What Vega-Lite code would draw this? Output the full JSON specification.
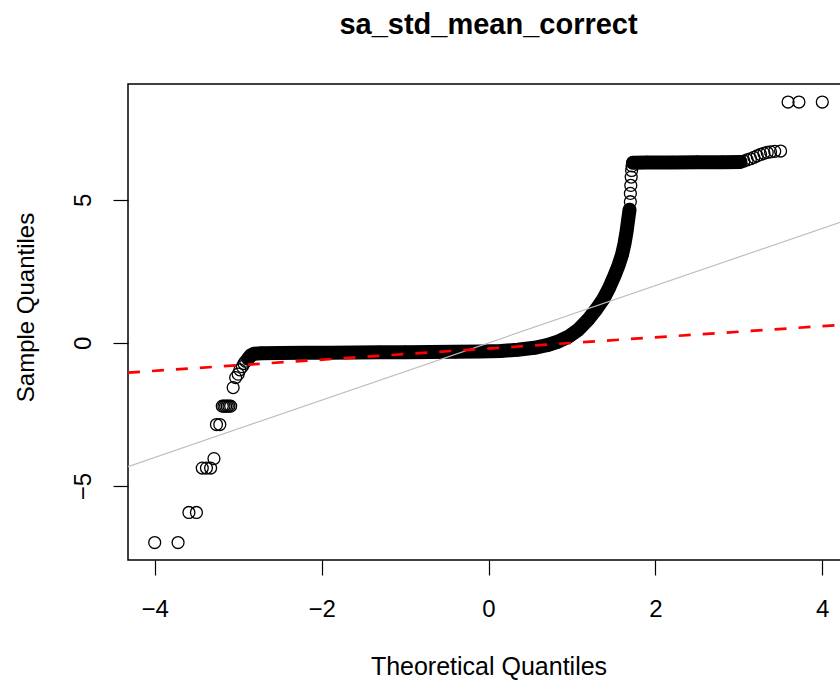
{
  "$schema": "https://vega.github.io/schema/vega-lite/v6.json",
  "width": 721,
  "height": 476,
  "autosize": {"type": "none"},
  "padding": {"left": 128, "top": 84, "right": 0, "bottom": 120},
  "background": "white",
  "config": {"view": {"stroke": "black", "strokeWidth": 1.5}, "font": "Liberation Sans"},
  "title": {"text": "sa_std_mean_correct", "fontSize": 29, "fontWeight": "bold", "font": "Liberation Sans", "color": "black", "anchor": "middle", "baseline": "alphabetic", "offset": 21},
  "datasets": {
    "pts": [
      {"q": -4.00, "s": -6.97, "g": "t"},
      {"q": -3.72, "s": -6.97, "g": "t"},
      {"q": -3.59, "s": -5.92, "g": "t"},
      {"q": -3.50, "s": -5.92, "g": "t"},
      {"q": -3.43, "s": -4.37, "g": "t"},
      {"q": -3.38, "s": -4.37, "g": "t"},
      {"q": -3.33, "s": -4.37, "g": "t"},
      {"q": -3.29, "s": -4.04, "g": "t"},
      {"q": -3.26, "s": -2.85, "g": "t"},
      {"q": -3.22, "s": -2.85, "g": "t"},
      {"q": -3.19, "s": -2.21, "g": "t"},
      {"q": -3.17, "s": -2.21, "g": "t"},
      {"q": -3.15, "s": -2.21, "g": "t"},
      {"q": -3.13, "s": -2.21, "g": "t"},
      {"q": -3.11, "s": -2.21, "g": "t"},
      {"q": -3.09, "s": -2.21, "g": "t"},
      {"q": -3.06, "s": -1.56, "g": "t"},
      {"q": -3.03, "s": -1.21, "g": "t"},
      {"q": -3.00, "s": -1.09, "g": "t"},
      {"q": -2.98, "s": -0.94, "g": "t"},
      {"q": -2.95, "s": -0.83, "g": "t"},
      {"q": -2.93, "s": -0.72, "g": "t"},
      {"q": -2.91, "s": -0.64, "g": "t"},
      {"q": -2.88, "s": -0.55, "g": "b1"},
      {"q": -2.85, "s": -0.44, "g": "b1"},
      {"q": -2.81, "s": -0.38, "g": "b1"},
      {"q": -2.72, "s": -0.36, "g": "b1"},
      {"q": -2.50, "s": -0.35, "g": "b1"},
      {"q": -2.20, "s": -0.345, "g": "b1"},
      {"q": -1.90, "s": -0.34, "g": "b1"},
      {"q": -1.60, "s": -0.335, "g": "b1"},
      {"q": -1.30, "s": -0.33, "g": "b1"},
      {"q": -1.00, "s": -0.325, "g": "b1"},
      {"q": -0.70, "s": -0.32, "g": "b1"},
      {"q": -0.40, "s": -0.31, "g": "b1"},
      {"q": -0.10, "s": -0.30, "g": "b1"},
      {"q": 0.15, "s": -0.28, "g": "b1"},
      {"q": 0.35, "s": -0.24, "g": "b1"},
      {"q": 0.55, "s": -0.17, "g": "b1"},
      {"q": 0.70, "s": -0.08, "g": "b1"},
      {"q": 0.82, "s": 0.03, "g": "b1"},
      {"q": 0.96, "s": 0.22, "g": "b1"},
      {"q": 1.08, "s": 0.47, "g": "b1"},
      {"q": 1.19, "s": 0.80, "g": "b1"},
      {"q": 1.29, "s": 1.17, "g": "b1"},
      {"q": 1.38, "s": 1.55, "g": "b1"},
      {"q": 1.45, "s": 1.95, "g": "b1"},
      {"q": 1.51, "s": 2.35, "g": "b1"},
      {"q": 1.56, "s": 2.72, "g": "b1"},
      {"q": 1.60, "s": 3.08, "g": "b1"},
      {"q": 1.63, "s": 3.47, "g": "b1"},
      {"q": 1.655, "s": 3.90, "g": "b1"},
      {"q": 1.675, "s": 4.33, "g": "b1"},
      {"q": 1.69, "s": 4.65, "g": "b1"},
      {"q": 1.70, "s": 4.93, "g": "t"},
      {"q": 1.70, "s": 5.22, "g": "t"},
      {"q": 1.705, "s": 5.50, "g": "t"},
      {"q": 1.71, "s": 5.79, "g": "t"},
      {"q": 1.715, "s": 6.02, "g": "t"},
      {"q": 1.72, "s": 6.18, "g": "t"},
      {"q": 1.73, "s": 6.29, "g": "b2"},
      {"q": 1.90, "s": 6.30, "g": "b2"},
      {"q": 2.20, "s": 6.30, "g": "b2"},
      {"q": 2.50, "s": 6.31, "g": "b2"},
      {"q": 2.80, "s": 6.31, "g": "b2"},
      {"q": 3.02, "s": 6.32, "g": "b2"},
      {"q": 3.06, "s": 6.35, "g": "t"},
      {"q": 3.10, "s": 6.39, "g": "t"},
      {"q": 3.14, "s": 6.43, "g": "t"},
      {"q": 3.18, "s": 6.48, "g": "t"},
      {"q": 3.22, "s": 6.53, "g": "t"},
      {"q": 3.26, "s": 6.58, "g": "t"},
      {"q": 3.30, "s": 6.62, "g": "t"},
      {"q": 3.34, "s": 6.65, "g": "t"},
      {"q": 3.38, "s": 6.67, "g": "t"},
      {"q": 3.43, "s": 6.69, "g": "t"},
      {"q": 3.50, "s": 6.70, "g": "t"},
      {"q": 3.59, "s": 8.41, "g": "t"},
      {"q": 3.72, "s": 8.41, "g": "t"},
      {"q": 4.00, "s": 8.41, "g": "t"}
    ]
  },
  "layer": [
    {
      "data": {"name": "pts"},
      "transform": [{"filter": "datum.g != 't'"}],
      "mark": {"type": "line", "stroke": "black", "strokeWidth": 14, "strokeCap": "round", "strokeJoin": "round", "clip": true},
      "encoding": {
        "x": {
          "field": "q", "type": "quantitative",
          "scale": {"domain": [-4.32, 4.32], "nice": false, "zero": false},
          "axis": {
            "values": [-4, -2, 0, 2, 4], "format": "d", "domain": false, "grid": false,
            "tickSize": 15, "tickWidth": 1.2, "tickColor": "black",
            "labelFontSize": 24, "labelColor": "black", "labelFont": "Liberation Sans",
            "labelPadding": 41, "labelBaseline": "alphabetic", "labelFlush": false, "labelOverlap": false,
            "title": "Theoretical Quantiles", "titleFontSize": 25, "titleFont": "Liberation Sans",
            "titleFontWeight": "normal", "titleColor": "black",
            "titleX": 360.5, "titleY": 114, "titleBaseline": "alphabetic", "titleAlign": "center"
          }
        },
        "y": {
          "field": "s", "type": "quantitative",
          "scale": {"domain": [-7.58, 9.04], "nice": false, "zero": false},
          "axis": {
            "values": [-5, 0, 5], "format": "d", "domain": false, "grid": false,
            "tickSize": 15, "tickWidth": 1.2, "tickColor": "black",
            "labelAngle": -90, "labelAlign": "center", "labelBaseline": "alphabetic", "labelPadding": 23,
            "labelFontSize": 24, "labelColor": "black", "labelFont": "Liberation Sans", "labelOverlap": false,
            "title": "Sample Quantiles", "titleFontSize": 24, "titleFont": "Liberation Sans",
            "titleFontWeight": "normal", "titleColor": "black", "titleAngle": -90,
            "titleBaseline": "alphabetic", "titleAlign": "center", "titleX": -95, "titleY": 223
          }
        },
        "detail": {"field": "g"},
        "order": {"field": "s", "type": "quantitative"}
      }
    },
    {
      "data": {"name": "pts"},
      "mark": {"type": "point", "shape": "circle", "filled": false, "size": 142, "strokeWidth": 1.3, "color": "black", "opacity": 1, "clip": true},
      "encoding": {
        "x": {"field": "q", "type": "quantitative"},
        "y": {"field": "s", "type": "quantitative"}
      }
    },
    {
      "data": {"values": [{"q": -4.32, "s": -4.32, "q2": 4.32, "s2": 4.32}]},
      "mark": {"type": "rule", "color": "#bebebe", "strokeWidth": 1.2, "clip": true},
      "encoding": {
        "x": {"field": "q", "type": "quantitative"},
        "y": {"field": "s", "type": "quantitative"},
        "x2": {"field": "q2"},
        "y2": {"field": "s2"}
      }
    },
    {
      "data": {"values": [{"q": -4.32, "s": -1.037, "q2": 4.32, "s2": 0.647}]},
      "mark": {"type": "rule", "color": "#ff0000", "strokeWidth": 2.7, "strokeDash": [12, 12], "clip": true},
      "encoding": {
        "x": {"field": "q", "type": "quantitative"},
        "y": {"field": "s", "type": "quantitative"},
        "x2": {"field": "q2"},
        "y2": {"field": "s2"}
      }
    }
  ]
}
